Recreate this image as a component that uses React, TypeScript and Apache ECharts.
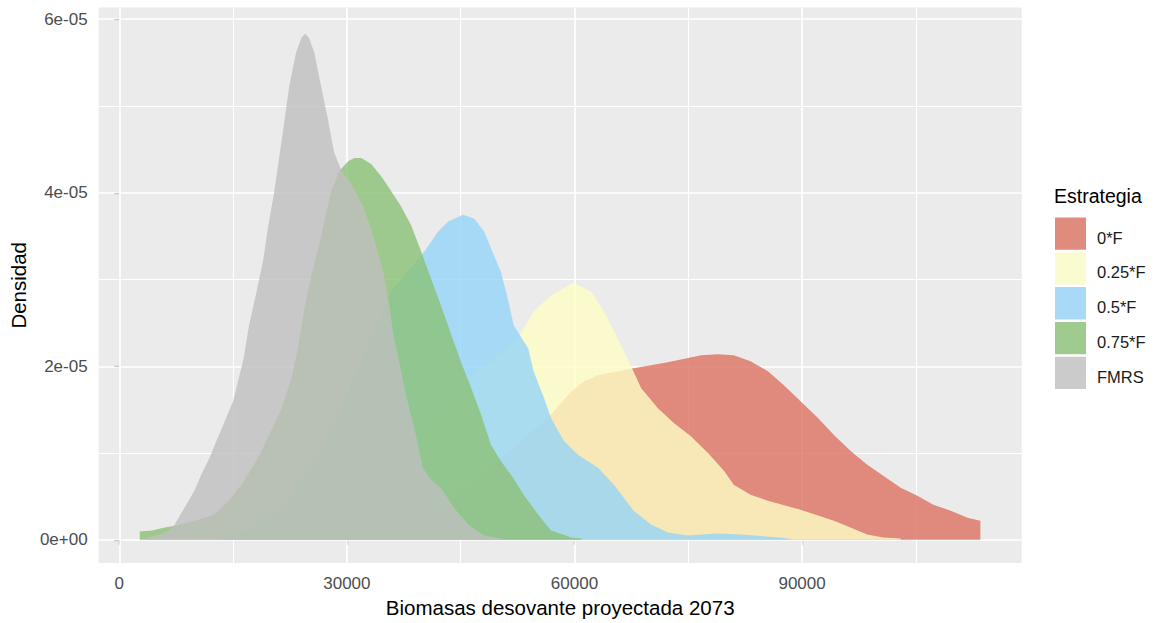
import React, { useEffect, useRef } from "react";
import * as echarts from "echarts";

// ---- data ----
const strategies = ["0*F", "0.25*F", "0.5*F", "0.75*F", "FMRS"];
const xTicks = [0, 30000, 60000, 90000];
const xMinorGrid = [15000, 45000, 75000, 105000];
// densities are expressed in units of 1e-05
const yTicks = [0, 2, 4, 6];
const yTickLabels = ["0e+00", "2e-05", "4e-05", "6e-05"];
const yMinorGrid = [1, 3, 5];

const dens0F = [
  [24000, 0.015], [30600, 0.061], [37100, 0.199], [43700, 0.485], [50300, 0.945],
  [56500, 1.403], [59600, 1.713], [61300, 1.828], [63100, 1.897], [67800, 1.977],
  [72300, 2.046], [76700, 2.127], [78900, 2.138], [81000, 2.127], [83200, 2.058],
  [85500, 1.943], [87600, 1.782], [89800, 1.598], [92100, 1.403], [94200, 1.208],
  [96400, 1.025], [98600, 0.864], [100700, 0.738], [103000, 0.6], [105200, 0.508],
  [107300, 0.405], [109600, 0.336], [111800, 0.256], [113500, 0.221],
];
const dens025F = [
  [17400, 0.049], [24000, 0.141], [30600, 0.371], [37100, 0.83], [41100, 1.289],
  [45400, 1.84], [49000, 2.069], [52500, 2.321], [54600, 2.631], [56900, 2.815],
  [59800, 2.964], [62200, 2.861], [63900, 2.631], [65700, 2.321], [67400, 2.012],
  [68800, 1.748], [71000, 1.518], [73100, 1.346], [75300, 1.197], [77600, 1.002],
  [79700, 0.795], [81000, 0.635], [83200, 0.52], [85500, 0.451], [89800, 0.348],
  [94200, 0.221], [98600, 0.061], [100700, 0.026], [103000, 0.015],
];
const dens05F = [
  [13500, 0.02], [17400, 0.13], [21400, 0.38], [25300, 0.85], [29300, 1.55],
  [33200, 2.35], [35800, 2.861], [40200, 3.32], [42000, 3.55], [43300, 3.665],
  [45300, 3.746], [46800, 3.7], [48100, 3.55], [49400, 3.274], [50300, 3.091],
  [51200, 2.781], [52000, 2.471], [53900, 2.207], [54600, 1.943], [56000, 1.633],
  [56900, 1.403], [58600, 1.139], [60500, 0.979], [63100, 0.83], [65200, 0.635],
  [67800, 0.336], [70100, 0.176], [72300, 0.084], [74900, 0.049], [78900, 0.072],
  [81900, 0.061], [87200, 0.026], [88500, 0.01],
];
const dens075F = [
  [2700, 0.095], [4300, 0.107], [6000, 0.141], [7500, 0.164], [10400, 0.233],
  [12500, 0.291], [14400, 0.451], [16100, 0.635], [18300, 0.945], [20000, 1.254],
  [21400, 1.518], [22700, 1.863], [23600, 2.241], [24400, 2.666], [25300, 3.045],
  [26600, 3.504], [27900, 4.01], [29000, 4.251], [30200, 4.366], [31000, 4.4],
  [31900, 4.4], [33200, 4.332], [34500, 4.194], [35400, 4.079], [37100, 3.849],
  [38500, 3.619], [39800, 3.32], [41100, 3.01], [42400, 2.7], [43700, 2.379],
  [45000, 2.058], [46400, 1.748], [47700, 1.438], [49000, 1.094], [50300, 0.91],
  [51900, 0.715], [53300, 0.52], [55200, 0.291], [56900, 0.107], [59600, 0.026],
  [60900, 0.015],
];
const densFMRS = [
  [3500, 0.02], [4300, 0.038], [5600, 0.072], [6500, 0.107], [7300, 0.176],
  [8600, 0.371], [9900, 0.566], [10800, 0.749], [11900, 0.945], [12800, 1.139],
  [13700, 1.323], [15000, 1.598], [16400, 2.092], [17100, 2.471], [18100, 2.861],
  [19000, 3.24], [19600, 3.6], [20400, 4.0], [20900, 4.3], [21800, 4.848],
  [22400, 5.227], [23300, 5.615], [24000, 5.787], [24500, 5.833], [25000, 5.787],
  [25700, 5.615], [26600, 5.227], [27500, 4.848], [28300, 4.469], [29300, 4.251],
  [30600, 4.102], [32300, 3.815], [33600, 3.469], [34800, 3.091], [35600, 2.7],
  [36100, 2.379], [36900, 2.058], [37800, 1.667], [38900, 1.289], [40000, 0.83],
  [41100, 0.692], [42400, 0.6], [44100, 0.371], [46000, 0.176], [48100, 0.049],
  [50300, 0.015],
];
const seriesData = [dens0F, dens025F, dens05F, dens075F, densFMRS];

// ---- styles ----
const fillColors = [
  "rgba(220,114,96,0.8)",
  "rgba(254,254,197,0.8)",
  "rgba(149,212,248,0.8)",
  "rgba(139,193,118,0.8)",
  "rgba(191,191,191,0.8)",
];
const keyColors = ["#E08C7D", "#FBFBD0", "#A8DAF7", "#A0CB8F", "#CACBCA"];
const FONT = "'Liberation Sans', Arial, Helvetica, sans-serif";

export default function App() {
  const ref = useRef<HTMLDivElement>(null);

  useEffect(() => {
    if (!ref.current) return;
    const chart = echarts.init(ref.current, undefined, { renderer: "svg" });

    const gridLines = [
      ...xTicks.map((v) => ({ xAxis: v, lineStyle: { width: 1.7 } })),
      ...xMinorGrid.map((v) => ({ xAxis: v, lineStyle: { width: 1.1 } })),
      ...yTicks.map((v) => ({ yAxis: v, lineStyle: { width: 1.7 } })),
      ...yMinorGrid.map((v) => ({ yAxis: v, lineStyle: { width: 1.1 } })),
    ];

    const option: any = {
      animation: false,
      textStyle: { fontFamily: FONT },
      title: {
        text: "Estrategia",
        left: 1054,
        top: 186,
        padding: 0,
        textStyle: { fontSize: 19.5, fontWeight: "normal", color: "#000", fontFamily: FONT },
      },
      legend: {
        orient: "vertical",
        left: 1055,
        top: 217.5,
        padding: 0,
        itemWidth: 31,
        itemHeight: 32.3,
        itemGap: 2.5,
        selectedMode: false,
        icon: "rect",
        data: strategies.map((s, i) => ({ name: s, itemStyle: { color: keyColors[i] } })),
        formatter: "{t|{name}}",
        textStyle: {
          fontSize: 16.5,
          color: "#1A1A1A",
          fontFamily: FONT,
          padding: [0, 0, 0, 6],
          rich: {
            t: {
              fontSize: 16.5,
              color: "#1A1A1A",
              fontFamily: FONT,
              padding: [8, 0, 0, 0],
            },
          },
        },
      },
      grid: {
        left: 97,
        right: 136.3,
        top: 7.5,
        bottom: 57.3,
        show: true,
        backgroundColor: "#EBEBEB",
        borderWidth: 0,
        containLabel: false,
      },
      xAxis: {
        type: "value",
        min: -2720,
        max: 118950,
        name: "Biomasas desovante proyectada 2073",
        nameLocation: "middle",
        nameGap: 33,
        nameTextStyle: { fontSize: 20.5, color: "#000", fontFamily: FONT },
        axisLine: { show: false },
        axisTick: {
          show: true,
          customValues: xTicks,
          length: 5,
          lineStyle: { color: "#333333", width: 1.1 },
        },
        axisLabel: {
          customValues: xTicks,
          margin: 12,
          fontSize: 17,
          color: "#4D4D4D",
          fontFamily: FONT,
          formatter: (v: number) => String(v),
        },
        splitLine: { show: false },
      },
      yAxis: {
        type: "value",
        min: -0.268,
        max: 6.135,
        name: "Densidad",
        nameLocation: "middle",
        nameGap: 65,
        nameTextStyle: { fontSize: 20.5, color: "#000", fontFamily: FONT },
        axisLine: { show: false },
        axisTick: {
          show: true,
          customValues: yTicks,
          length: 5,
          lineStyle: { color: "#333333", width: 1.1 },
        },
        axisLabel: {
          customValues: yTicks,
          margin: 11,
          fontSize: 17,
          color: "#4D4D4D",
          fontFamily: FONT,
          formatter: (v: number) => {
            const i = yTicks.findIndex((t) => Math.abs(t - v) < 1e-9);
            return i >= 0 ? yTickLabels[i] : "";
          },
        },
        splitLine: { show: false },
      },
      series: [
        {
          type: "line",
          name: "__grid",
          data: [[0, 0]],
          symbol: "none",
          silent: true,
          lineStyle: { opacity: 0, width: 0 },
          z: 1,
          markLine: {
            silent: true,
            symbol: ["none", "none"],
            label: { show: false },
            emphasis: { disabled: true },
            lineStyle: { color: "#FFFFFF", type: "solid" },
            data: gridLines,
          },
        },
        ...strategies.map((s, i) => ({
          type: "line",
          name: s,
          data: seriesData[i],
          symbol: "none",
          silent: true,
          z: 10,
          lineStyle: { width: 0, color: fillColors[i] },
          itemStyle: { color: fillColors[i] },
          areaStyle: { color: fillColors[i], opacity: 1 },
        })),
      ],
    };

    chart.setOption(option);
    return () => chart.dispose();
  }, []);

  return (
    <div
      ref={ref}
      style={{ position: "absolute", left: 0, top: 0, width: 1158, height: 623, background: "#fff" }}
    />
  );
}
